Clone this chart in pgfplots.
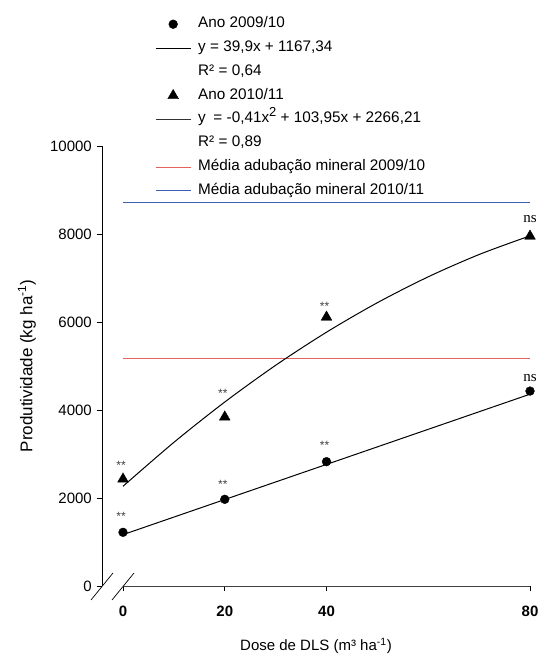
\documentclass[border=0pt]{standalone}
\usepackage{fontspec}
\setmainfont{Liberation Sans}
\newfontfamily\serifns{Liberation Serif}
\usepackage{pgfplots}
\pgfplotsset{compat=1.18}
\definecolor{mred}{RGB}{232,95,95}
\definecolor{mblue}{RGB}{65,95,175}
\newcommand{\fs}{\fontsize{15}{18}\selectfont}

\begin{document}
\fs
\begin{tikzpicture}[
    ast/.style={font=\fontsize{12}{12}\selectfont, text=black!75, inner sep=0pt, anchor=base},
    nsl/.style={font=\serifns\fontsize{15}{15}\selectfont, inner sep=0pt, anchor=base}]
  \path[use as bounding box] (-102pt,-70pt) rectangle (438pt,586pt);
  \begin{axis}[
      scale only axis, width=428pt, height=440pt,
      at={(0,0)}, anchor=south west,
      xmin=-4.13, xmax=80, ymin=0, ymax=10000,
      axis x line*=bottom, axis y line*=left,
      x axis line style={draw=none},
      y axis line style={-, line width=0.9pt},
      tick align=outside, major tick length=5pt,
      major tick style={black, line width=0.9pt},
      xtick={0,20,40,80}, ytick={0,2000,4000,6000,8000,10000},
      minor tick num=0, scaled y ticks=false,
      tick label style={font=\fs},
      xticklabel style={font=\fs\bfseries, yshift=-10pt},
      /pgf/number format/1000 sep={},
      /pgf/number format/assume math mode=true,
      xlabel={Dose de DLS (m³ ha\textsuperscript{-1})},
      ylabel={Produtividade (kg ha\textsuperscript{-1})},
      xlabel style={at={(axis description cs:0.5,-0.1364)}, anchor=center, font=\fs},
      ylabel style={at={(axis description cs:-0.1752,0.5)}, anchor=center,
        font=\fontsize{17}{20}\selectfont},
      clip=false,
      legend cell align=left,
      legend style={draw=none, fill=none, at={(axis description cs:0.1238,1.292)},
        anchor=north west, inner sep=0pt, row sep=10.8pt, column sep=7pt,
        nodes={inner sep=0pt, text height=10pt, text depth=3pt,
          font=\fontsize{15.3}{18}\selectfont}},
      legend image code/.code={\draw[mark repeat=2,mark phase=2,#1]
        plot coordinates {(0pt,0pt) (17.5pt,0pt) (35pt,0pt)};},
    ]
    \addlegendimage{only marks, mark=*, mark size=4.4pt, draw=black, fill=black}
    \addlegendentry{Ano 2009/10}
    \addlegendimage{draw=black, line width=1pt}
    \addlegendentry{y = 39,9x + 1167,34}
    \addlegendimage{empty legend}
    \addlegendentry{R² = 0,64}
    \addlegendimage{only marks, mark=triangle*, mark size=6.2pt, draw=black, fill=black}
    \addlegendentry{Ano 2010/11}
    \addlegendimage{draw=black!80, line width=1pt}
    \addlegendentry{y\enspace= -0,41x\raisebox{0.42em}{\fontsize{13}{13}\selectfont 2} + 103,95x + 2266,21}
    \addlegendimage{empty legend}
    \addlegendentry{R² = 0,89}
    \addlegendimage{draw=mred, line width=1pt}
    \addlegendentry{Média adubação mineral 2009/10}
    \addlegendimage{draw=mblue, line width=1pt}
    \addlegendentry{Média adubação mineral 2010/11}

    % mineral fertilisation means
    \addplot[mred, line width=1pt, forget plot] coordinates {(0,5160) (80,5160)};
    \addplot[mblue, line width=1pt, forget plot] coordinates {(0,8711) (80,8711)};
    % fitted curves
    \addplot[black, line width=1pt, forget plot] coordinates {(0,1167.34) (80,4359.34)};
    \addplot[black, line width=1pt, smooth, forget plot] coordinates {
      (0,2266.21) (10,3264.7) (20,4181.2) (30,5015.7) (40,5768.2)
      (50,6438.7) (60,7027.2) (70,7533.7) (80,7958.2)};
    % observed means
    \addplot[only marks, mark=*, mark size=4.4pt, black, forget plot]
      coordinates {(0,1220) (20,1970) (40,2826) (80,4430)};
    \addplot[only marks, mark=triangle*, mark size=6.2pt, black, forget plot]
      coordinates {(0,2430) (20,3840) (40,6110) (80,7950)};

    % x axis line with break marks
    \draw[black!75, line width=0.9pt] (axis cs:0,0) -- (axis cs:80,0);
    \draw[black, line width=0.7pt] ([xshift=-11pt,yshift=-14pt]axis cs:-4.13,0) -- ++(22pt,27pt);
    \draw[black, line width=0.7pt] ([xshift=-11pt,yshift=-14pt]axis cs:0,0) -- ++(22pt,27pt);

    % significance marks
    \node[ast, xshift=-2pt, yshift=12pt] at (axis cs:0,1220) {**};
    \node[ast, xshift=-2pt, yshift=10pt] at (axis cs:0,2430) {**};
    \node[ast, xshift=-2pt, yshift=11pt] at (axis cs:20,1970) {**};
    \node[ast, xshift=-2pt, yshift=12pt] at (axis cs:40,2826) {**};
    \node[ast, xshift=-2pt, yshift=20pt] at (axis cs:20,3840) {**};
    \node[ast, xshift=-2pt, yshift=7pt] at (axis cs:40,6110) {**};
    \node[nsl, yshift=13.5pt] at (axis cs:80,7950) {ns};
    \node[nsl, yshift=9.5pt] at (axis cs:80,4430) {ns};
  \end{axis}
\end{tikzpicture}
\end{document}
